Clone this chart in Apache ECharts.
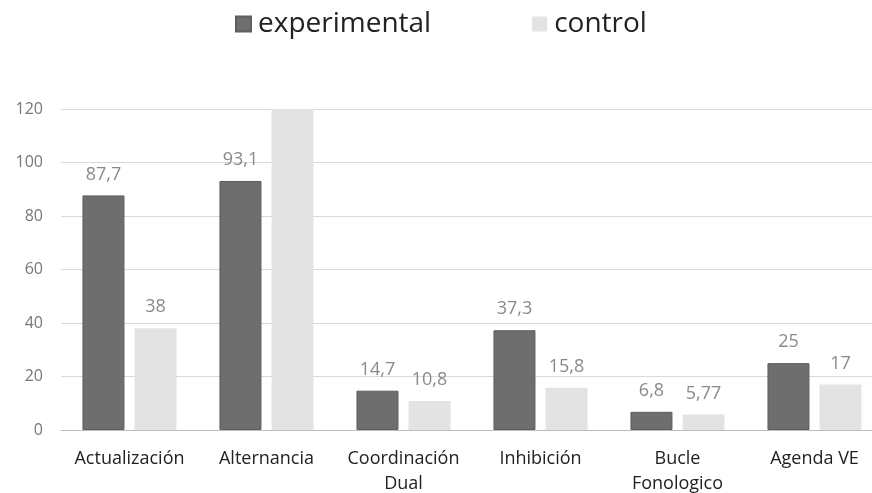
<!DOCTYPE html>
<html><head><meta charset="utf-8">
<script src="https://cdn.jsdelivr.net/npm/echarts@6/dist/echarts.min.js"></script>
<style>html,body{margin:0;padding:0;background:#fff;overflow:hidden}#c{width:872px;height:493px}</style>
</head><body><div id="c"></div>
<script>
const categories = ['Actualización', 'Alternancia', 'Coordinación\nDual', 'Inhibición', 'Bucle\nFonologico', 'Agenda VE'];
const experimental = [87.7, 93.1, 14.7, 37.3, 6.8, 25];
const control = [38, 125, 10.8, 15.8, 5.77, 17];
const yTicks = [0, 20, 40, 60, 80, 100, 120];
const fmt = v => String(v).replace('.', ',');
const chart = echarts.init(document.getElementById('c'));
chart.setOption({
  animation: false,
  textStyle: { fontFamily: 'Open Sans' },
  legend: {
    top: 5, left: 230, itemWidth: 15, itemHeight: 15, itemGap: 101,
    icon: 'rect',
    textStyle: { fontSize: 28, color: '#222', fontFamily: 'Open Sans', padding: [0, 0, 0, 2] },
    data: ['experimental', 'control']
  },
  grid: { left: 61, width: 822, top: 109, bottom: 63, containLabel: false, outerBoundsMode: 'none' },
  xAxis: {
    type: 'category', data: categories,
    axisLine: { lineStyle: { color: '#bdbdbd' } },
    axisTick: { show: false },
    axisLabel: { interval: 0, fontSize: 18, color: '#222', margin: 16, lineHeight: 25 }
  },
  yAxis: {
    type: 'value', min: 0, max: 120, interval: 20,
    axisLabel: { fontSize: 16, color: '#777', margin: 18, formatter: v => yTicks.includes(v) ? String(v) : '' },
    splitLine: { lineStyle: { color: '#d9d9d9' } },
    axisLine: { show: false }, axisTick: { show: false }
  },
  series: [
    { name: 'experimental', type: 'bar', data: experimental, barWidth: 42, barGap: '24%',
      itemStyle: { color: '#6e6e6e', borderColor: '#5e5e5e', borderWidth: 1 },
      label: { show: true, position: 'top', distance: 12, color: '#8a8a8a', fontSize: 18, formatter: p => fmt(p.value) } },
    { name: 'control', type: 'bar', data: control.map((v, i) => i === 1 ? { value: v, label: { show: false } } : v), barWidth: 42,
      itemStyle: { color: '#e3e3e3' },
      label: { show: true, position: 'top', distance: 12, color: '#8a8a8a', fontSize: 18, formatter: p => fmt(p.value) } }
  ]
});
</script></body></html>
